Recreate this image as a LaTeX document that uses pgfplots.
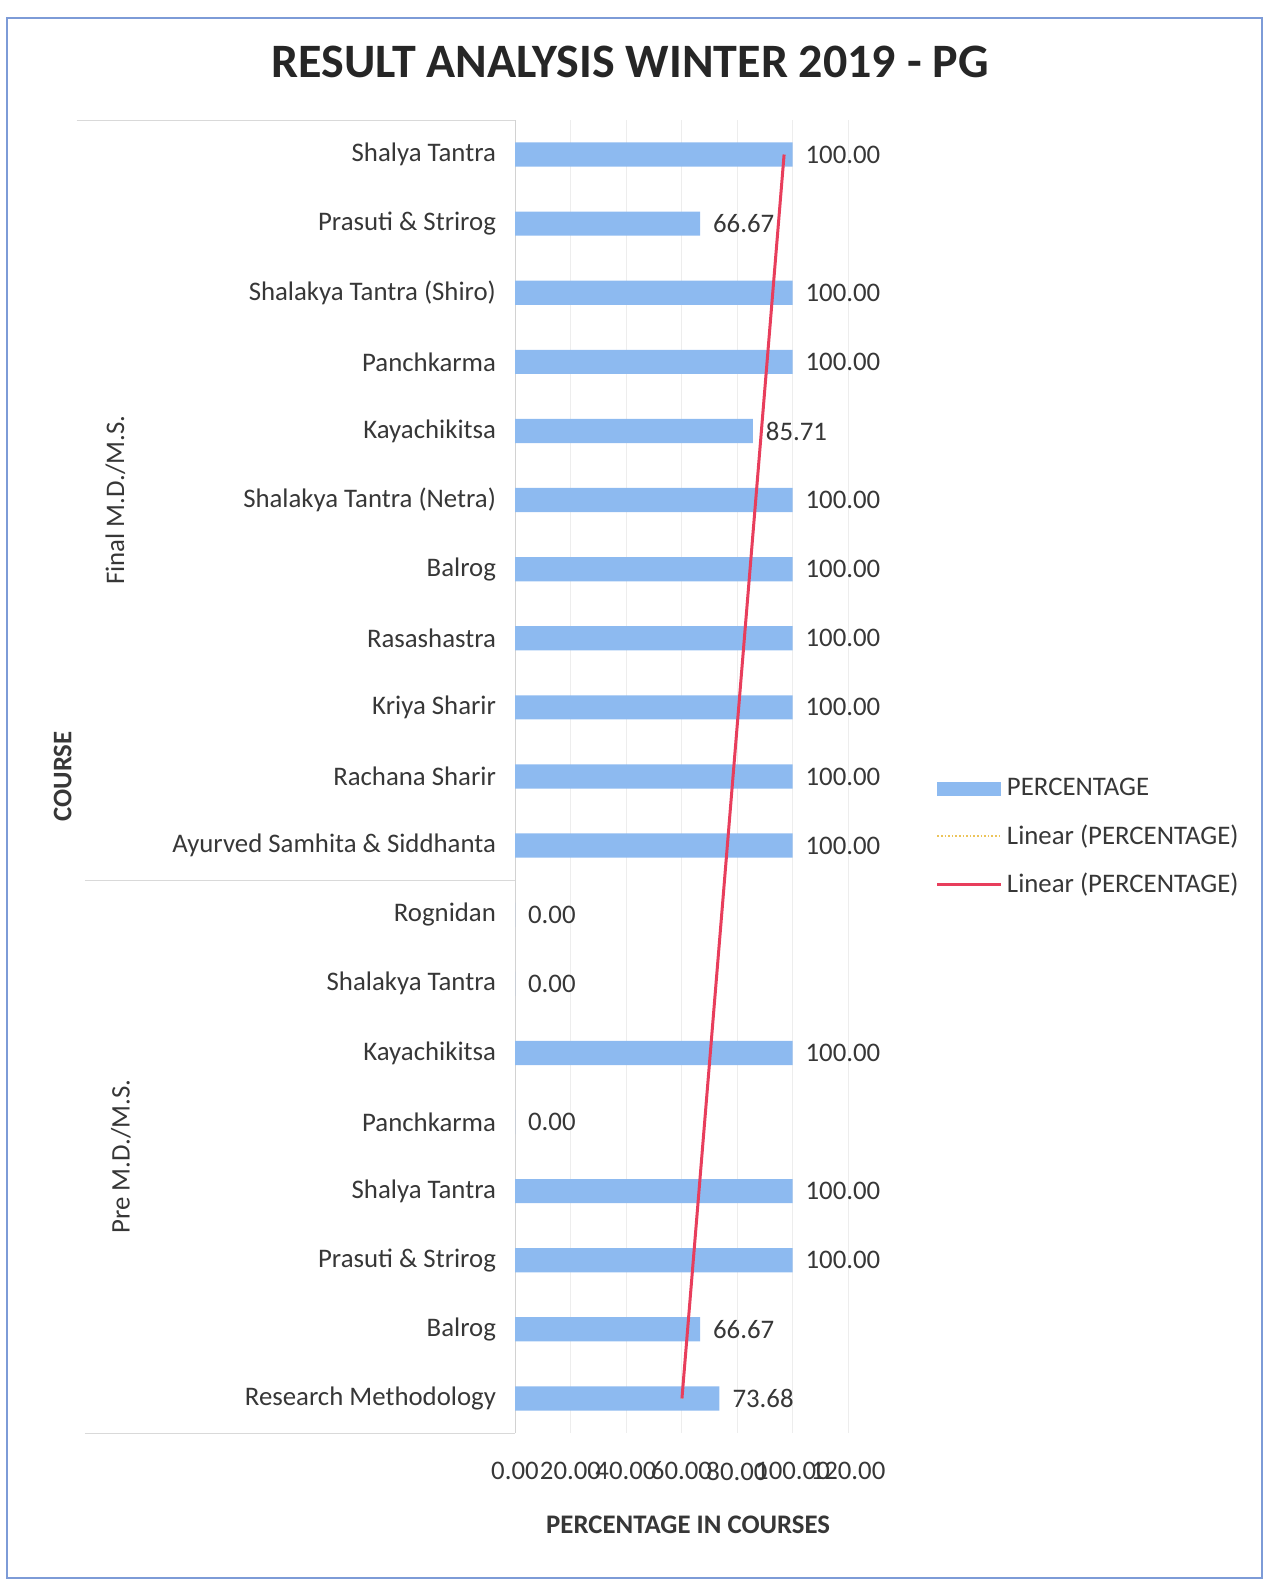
\documentclass[border=0pt]{standalone}
\usepackage{pgfplots}
\pgfplotsset{compat=1.18}
\usepackage{fontspec}
\setmainfont{Carlito}
\definecolor{barblue}{RGB}{141,186,240}
\definecolor{trendred}{RGB}{232,62,92}
\definecolor{trendyel}{RGB}{236,196,90}
\definecolor{bordblue}{RGB}{125,155,215}
\definecolor{txt}{RGB}{55,55,55}
\newcommand{\lf}{\fontsize{13.4}{15.5}\selectfont}
\begin{document}
\begin{tikzpicture}
\path[use as bounding box] (0pt,0pt) rectangle (640.5pt,791pt);
\draw[bordblue, line width=1.1pt] (3.5pt,2pt) rectangle (631pt,782pt);
\node[font=\bfseries\fontsize{24}{28}\selectfont, text=black!85] at (315pt,760pt) {RESULT ANALYSIS WINTER 2019 - PG};
\begin{axis}[
  at={(257.5pt,74.5pt)}, anchor=south west,
  scale only axis, width=166.5pt, height=656.5pt,
  clip=false,
  xmin=0, xmax=120, xtick={0,20,...,120},
  ymin=0.5, ymax=19.5, ytick={1,...,19},
  yticklabels={Research Methodology, Balrog, Prasuti \& Strirog, Shalya Tantra, Panchkarma, Kayachikitsa, Shalakya Tantra, Rognidan, Ayurved Samhita \& Siddhanta, Rachana Sharir, Kriya Sharir, Rasashastra, Balrog, Shalakya Tantra (Netra), Kayachikitsa, Panchkarma, Shalakya Tantra (Shiro), Prasuti \& Strirog, Shalya Tantra},
  axis lines*=left,
  x axis line style={draw=none},
  y axis line style={draw=gray!35},
  major tick length=0pt,
  xmajorgrids, grid style={gray!14},
  xticklabel style={font=\lf, text=txt, anchor=center, yshift=-19pt, /pgf/number format/.cd, fixed, fixed zerofill, precision=2, assume math mode=true},
  yticklabel style={font=\lf, text=txt, xshift=-6pt},
  xlabel={PERCENTAGE IN COURSES},
  xlabel style={at={(rel axis cs:0.52,0)}, anchor=center, yshift=-46pt, font=\bfseries\lf, text=txt},
  legend cell align=left,
  legend style={at={(rel axis cs:1.245,0.505)}, anchor=north west, draw=none, fill=none, font=\lf, text=txt, row sep=9pt},
]
\addplot[xbar, bar width=0.35, fill=barblue, draw=none,
  point meta=x,
  nodes near coords={\pgfmathprintnumber[fixed,fixed zerofill,precision=2,assume math mode=true]{\pgfplotspointmeta}},
  nodes near coords style={font=\lf, text=txt, anchor=west, xshift=3pt},
  legend image code/.code={\fill[barblue] (0pt,-3.5pt) rectangle (32pt,3.5pt);}]
coordinates {
(73.68,1) (66.67,2) (100,3) (100,4) (0,5) (100,6) (0,7) (0,8)
(100,9) (100,10) (100,11) (100,12) (100,13) (100,14) (85.71,15) (100,16) (100,17) (66.67,18) (100,19)
};
\addlegendentry{PERCENTAGE}
\addplot[trendyel, densely dotted, line width=0.8pt,
  legend image code/.code={\draw[trendyel, densely dotted, line width=0.8pt] (0pt,0pt) -- (32pt,0pt);}]
coordinates {(60.16,1) (96.97,19)};
\addlegendentry{Linear (PERCENTAGE)}
\addplot[trendred, line width=1.5pt,
  legend image code/.code={\draw[trendred, line width=1.5pt] (0pt,0pt) -- (32pt,0pt);}]
coordinates {(60.16,1) (96.97,19)};
\addlegendentry{Linear (PERCENTAGE)}
\draw[gray!30] (axis cs:-158,19.5) -- (axis cs:0,19.5);
\draw[gray!30] (axis cs:-155,8.5) -- (axis cs:0,8.5);
\draw[gray!30] (axis cs:-155,0.5) -- (axis cs:0,0.5);
\node[rotate=90, font=\lf, text=txt] at (axis cs:-144,14) {Final M.D./M.S.};
\node[rotate=90, font=\lf, text=txt] at (axis cs:-142,4.5) {Pre M.D./M.S.};
\node[rotate=90, font=\bfseries\lf, text=txt] at (axis cs:-163,10) {COURSE};
\end{axis}
\end{tikzpicture}
\end{document}
